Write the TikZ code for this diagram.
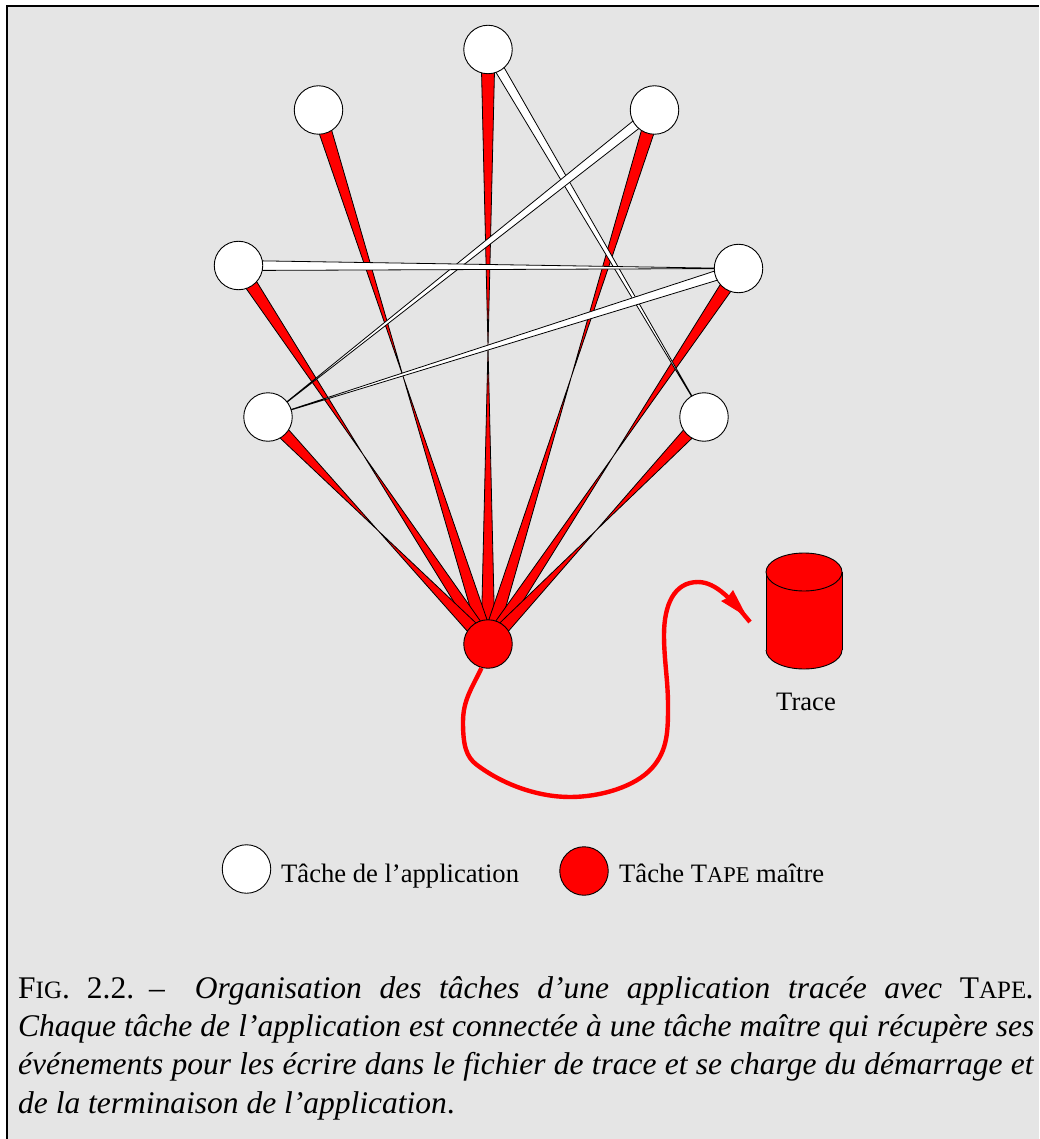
\documentclass[tikz,border=0pt]{standalone}
\usepackage{fontspec}
\usepackage{tikz}
\usetikzlibrary{calc,backgrounds}
\setmainfont{Liberation Serif}

\definecolor{fondgris}{HTML}{E5E5E5}
\tikzset{
	tache/.style={circle,draw=black,fill=white,line width=0.9pt,minimum size=48.5pt,inner sep=0pt},
	maitre/.style={tache,fill=red},
	legende/.style={anchor=base west,inner sep=0pt,font=\fontsize{26.6}{26.6}\selectfont},
	lien/.style={draw=black,line width=0.8pt,line join=round}
}
\newcommand{\lienrouge}[2]{
	\coordinate (mil) at ($(#1)!.5!(#2)$);
	\draw[lien,fill=red] ($(#1)!7pt!90:(#2)$) -- ($(#1)!7pt!-90:(#2)$) -- (mil) -- ($(#2)!7pt!90:(#1)$) -- ($(#2)!7pt!-90:(#1)$) -- (mil) -- cycle;
}
\newcommand{\lienblanc}[2]{
	\draw[lien,fill=white] ($(#1)!5pt!90:(#2)$) -- ($(#1)!5pt!-90:(#2)$) -- (#2.center) -- cycle;
}

\begin{document}
\begin{tikzpicture}[x=1pt,y=-1pt]
	\useasboundingbox (0,0) rectangle (1039,1139);
	\node[tache] (t1) at (488,49.5) {};
	\node[tache] (t2) at (318.5,110) {};
	\node[tache] (t3) at (654.5,110) {};
	\node[tache] (t4) at (238.5,265.5) {};
	\node[tache] (t5) at (738.5,268.5) {};
	\node[tache] (t6) at (268,417) {};
	\node[tache] (t7) at (704,417) {};
	\node[maitre] (m) at (488,644) {};
	\node[inner sep=0pt,font=\fontsize{26.6}{26.6}\selectfont] (trace) at (806,702) {Trace};
	\begin{scope}[on background layer]
		\fill[fondgris] (7,6) rectangle (1039,1139);
		\draw[line width=2.4pt] (7,1139) -- (7,6) -- (1039,6);
		\foreach \t in {t1,t2,t3,t4,t5,t6,t7} {
			\lienrouge{\t}{m}
		}
		\lienblanc{t1}{t7}
		\lienblanc{t3}{t6}
		\lienblanc{t4}{t5}
		\lienblanc{t5}{t6}
	\end{scope}
	\coordinate (traceend) at (750,622);
	\draw[red,line width=4.4pt] (481.5,668) .. controls (472,688) and (463,700) .. (463,722)
		.. controls (463,745) and (466,757) .. (477,765)
		.. controls (505,786) and (540,797) .. (570,797)
		.. controls (600,797) and (635,787) .. (652,768)
		.. controls (668,750) and (668,730) .. (668,705)
		.. controls (668,680) and (664,660) .. (664,635)
		.. controls (664,605) and (674,582) .. (698,582)
		.. controls (716,582) and (732,600) .. (traceend);
	\fill[red] (733,590) -- (747,617) -- (721,601) -- (727,598) -- cycle;
	\fill[red] (766,572) rectangle (842,650);
	\draw[line width=0.9pt,fill=red] (766,650) arc[start angle=180,end angle=360,x radius=38,y radius=-19];
	\draw[line width=0.9pt] (766,572) -- (766,650) (842,650) -- (842,572);
	\draw[line width=0.9pt,fill=red] (804,572) ellipse [x radius=38,y radius=19];
	\node[tache] (legt) at (246.5,869) {};
	\node[legende] (legtxt) at (281,882) {Tâche de l’application};
	\node[maitre] (legm) at (584,871) {};
	\node[legende] (legmtxt) at (619,882) {Tâche T{\fontsize{22.5}{22.5}\selectfont APE} maître};
	\node[anchor=north west,inner sep=0pt,text width=1016pt,align=justify,font=\fontsize{31.5}{38.3}\selectfont] (legende) at (18,976) {\frenchspacing F{\fontsize{25}{25}\selectfont IG}.\hspace{17pt}2.2.\hspace{15pt}--\hspace{30pt}\textit{Organisation des tâches d’une application tracée avec} T{\fontsize{25}{25}\selectfont APE}\textit{.}\linebreak
		\textit{Chaque tâche de l’application est connectée à une tâche maître qui récupère ses}\linebreak
		\textit{événements pour les écrire dans le fichier de trace et se charge du démarrage et}\linebreak
		\textit{de la terminaison de l’application}.};
\end{tikzpicture}
\end{document}
